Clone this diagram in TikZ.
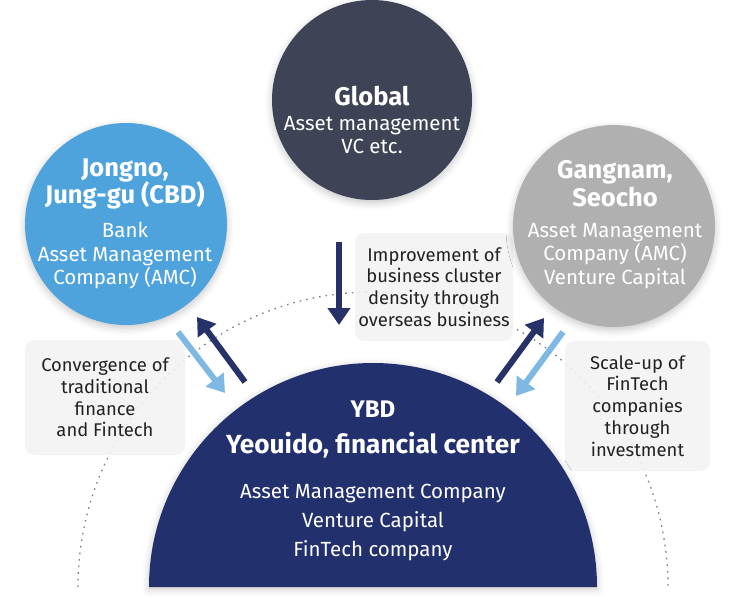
\documentclass[tikz,border=0pt]{standalone}
\usepackage{fontspec}
\setmainfont{Fira Sans}
\usetikzlibrary{arrows.meta,shadows.blur}
\definecolor{globalc}{HTML}{3E4356}
\definecolor{cbdc}{HTML}{4FA3DC}
\definecolor{gangc}{HTML}{B0B0B0}
\definecolor{ybdc}{HTML}{22306E}
\definecolor{arrdark}{HTML}{263268}
\definecolor{arrlight}{HTML}{7FB9E3}
\definecolor{notec}{HTML}{F2F2F2}
\definecolor{dotc}{HTML}{7A8090}
\definecolor{txtc}{HTML}{222222}
\tikzset{
  bigcirc/.style={circle, inner sep=0pt, minimum size=#1, draw=none,
    blur shadow={shadow xshift=0pt, shadow yshift=-3pt, shadow blur radius=7pt, shadow opacity=22}},
  ttl/.style={anchor=base, text=white, font=\fontsize{25.5}{29}\selectfont\bfseries},
  bodytxt/.style={anchor=base, text=white, font=\fontsize{20.5}{23}\selectfont},
  notebox/.style={fill=notec, fill opacity=0.88, text opacity=1, rounded corners=9pt,
    align=center, text=txtc, inner sep=0pt, font=\fontsize{18.4}{21.8}\selectfont},
  darr/.style={draw=arrdark, line width=6pt, -{Triangle[width=22pt,length=17pt]}},
  larr/.style={draw=arrlight, line width=6pt, -{Triangle[width=22pt,length=17pt]}},
  dotarc/.style={draw=dotc, line width=1.3pt, dash pattern=on 1.6pt off 5pt}
}
\begin{document}
\begin{tikzpicture}[x=1pt,y=-1pt]
\useasboundingbox (0,0) rectangle (729,605);
% dotted arc
\draw[dotarc] (78,587) arc[start angle=180, end angle=360, radius=295];
% note boxes
\node[notebox, minimum width=160pt, minimum height=115pt] (noteL) at (105,397.5)
  {Convergence of\\traditional\\finance\\and Fintech};
\node[notebox, minimum width=158pt, minimum height=108pt] (noteM) at (434,287)
  {Improvement of\\business cluster\\density through\\overseas business};
\node[notebox, minimum width=145pt, minimum height=130pt] (noteR) at (637.5,406)
  {Scale-up of\\FinTech\\companies\\through\\investment};
% circles
\node[bigcirc=200pt, fill=globalc] (global) at (372,100) {};
\node[bigcirc=202pt, fill=cbdc] (cbd) at (126,224) {};
\node[bigcirc=202pt, fill=gangc] (gang) at (614,226) {};
% YBD half disc
\fill[ybdc, blur shadow={shadow xshift=0pt, shadow yshift=-2pt, shadow blur radius=7pt, shadow opacity=22}]
  (149,587) arc[start angle=180, end angle=360, radius=224] -- cycle;
% texts
\node[ttl] (gT) at (372,105) {Global};
\node[bodytxt] (g1) at (372,130) {Asset management};
\node[bodytxt] (g2) at (372,153) {VC etc.};
\node[ttl] (cT1) at (125,176) {Jongno,};
\node[ttl] (cT2) at (125,203) {Jung-gu (CBD)};
\node[bodytxt] (c1) at (125,237) {Bank};
\node[bodytxt] (c2) at (125,261) {Asset Management};
\node[bodytxt] (c3) at (125,284) {Company (AMC)};
\node[ttl] (sT1) at (615,178) {Gangnam,};
\node[ttl] (sT2) at (615,206) {Seocho};
\node[bodytxt] (s1) at (615,237) {Asset Management};
\node[bodytxt] (s2) at (615,260) {Company (AMC)};
\node[bodytxt] (s3) at (615,284) {Venture Capital};
\node[ttl, font=\fontsize{24}{28}\selectfont\bfseries] (yT1) at (373,417) {YBD};
\node[ttl, font=\fontsize{26.2}{30}\selectfont\bfseries] (yT2) at (373,453) {Yeouido, financial center};
\node[bodytxt] (y1) at (373,498) {Asset Management Company};
\node[bodytxt] (y2) at (373,527) {Venture Capital};
\node[bodytxt] (y3) at (373,556) {FinTech company};
% arrow endpoints
\coordinate (aLa) at (178,332); \coordinate (aLb) at (225,393);
\coordinate (aDa) at (245,382); \coordinate (aDb) at (197,317);
\coordinate (bDa) at (497,382); \coordinate (bDb) at (544,318);
\coordinate (bLa) at (563,332); \coordinate (bLb) at (516,396);
\coordinate (mA) at (339,242); \coordinate (mB) at (339,325);
\draw[larr] (aLa) -- (aLb);
\draw[darr] (aDa) -- (aDb);
\draw[darr] (bDa) -- (bDb);
\draw[larr] (bLa) -- (bLb);
\draw[darr] (mA) -- (mB);
\end{tikzpicture}
\end{document}
